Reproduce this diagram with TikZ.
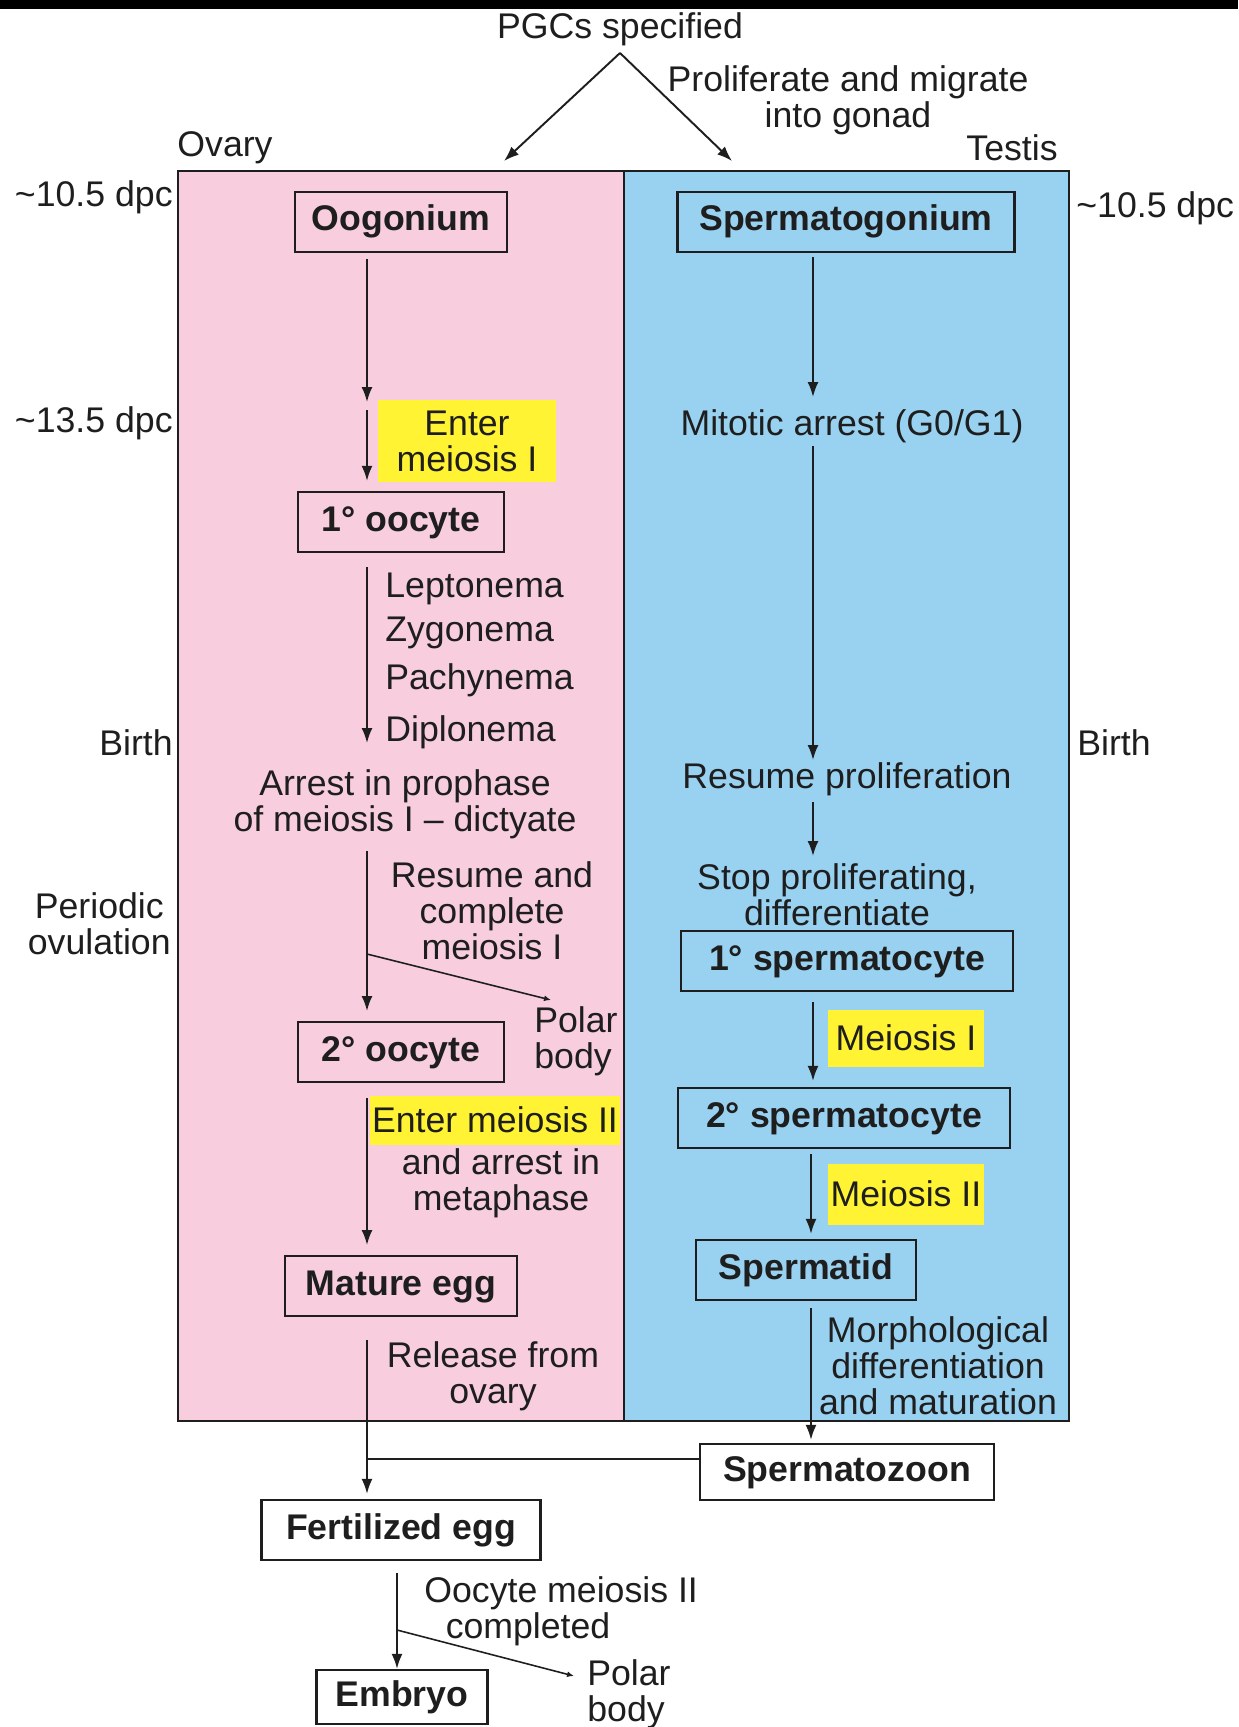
\documentclass[tikz,border=0pt]{standalone}
\usepackage{fontspec}
\setmainfont{Liberation Sans}
\usetikzlibrary{arrows.meta}
\definecolor{ovarypink}{RGB}{248,206,222}
\definecolor{testisblue}{RGB}{153,209,241}
\definecolor{markyellow}{RGB}{255,243,51}
\definecolor{ink}{RGB}{30,30,30}
\tikzstyle{txt} = [text=ink, align=center, inner sep=0pt, yshift=-0.08cm, font=\fontsize{20.3}{20.5}\selectfont]
\tikzstyle{cell} = [rectangle, draw=ink, line width=1.3pt, text=ink, inner sep=0pt, minimum height=1.2cm, text height=0.51cm, text depth=0.15cm, font=\bfseries\fontsize{20.3}{20.5}\selectfont]
\tikzstyle{yellowbox} = [text=ink, align=center, inner sep=0pt, fill=markyellow, font=\fontsize{20.3}{20.5}\selectfont]
\tikzstyle{arrow} = [draw=ink, line width=1.1pt, ->, >={Latex[length=0.3cm,width=0.22cm]}]
\tikzstyle{polararrow} = [draw=ink, line width=0.9pt, ->, >={Latex[length=0.14cm,width=0.12cm]}]

\begin{document}
\begin{tikzpicture}[x=0.02cm, y=-0.02cm]
\useasboundingbox (0,0) rectangle (1238,1727);
\fill[black] (0,0) rectangle (1238,9);

% the two gonads
\filldraw[fill=ovarypink, draw=ink, line width=1pt] (178,171) rectangle (624,1421);
\filldraw[fill=testisblue, draw=ink, line width=1pt] (624,171) rectangle (1069,1421);

\node (pgcs) [txt] at (620,25) {PGCs specified};
\node (migrate) [txt] at (848,96) {Proliferate and migrate\\into gonad};
\node (ovary) [txt] at (225,144) {Ovary};
\node (testis) [txt] at (1012,144) {Testis};

% time line
\node (dpcleft) [txt, anchor=east] at (173,193) {\textasciitilde10.5 dpc};
\node (dpcmid) [txt, anchor=east] at (173,419) {\textasciitilde13.5 dpc};
\node (birthleft) [txt, anchor=east] at (173,739) {Birth};
\node (ovulation) [txt, anchor=east] at (171,920) {Periodic\\ovulation};
\node (dpcright) [txt, anchor=west] at (1076,204) {\textasciitilde10.5 dpc};
\node (birthright) [txt, anchor=west] at (1077,739) {Birth};

% female side
\node (oogonium) [cell, minimum width=4.24cm] at (401,222) {Oogonium};
\node (enterone) [yellowbox, minimum width=3.58cm, minimum height=1.66cm] at (467,441) {Enter\\meiosis I};
\node (oocyteone) [cell, minimum width=4.12cm] at (401,522) {1\textdegree\ oocyte};
\foreach \stage/\y in {Leptonema/585, Zygonema/629, Pachynema/676, Diplonema/728}
  \node (\stage) [txt, anchor=west] at (385,\y) {\stage};
\node (arrest) [txt] at (405,800) {Arrest in prophase\\of meiosis I \textendash\ dictyate};
\node (resume) [txt] at (492,907) {Resume and\\complete\\meiosis I};
\node (polarone) [txt, anchor=west, align=left] at (534,1037) {Polar\\body};
\node (oocytetwo) [cell, minimum width=4.12cm] at (401,1052) {2\textdegree\ oocyte};
\node (entertwo) [yellowbox, minimum width=5.0cm, minimum height=0.98cm] at (495,1120) {Enter meiosis II};
\node (andarrest) [txt] at (501,1179) {and arrest in\\metaphase};
\node (matureegg) [cell, minimum width=4.64cm] at (401,1286) {Mature egg};
\node (release) [txt] at (493,1372) {Release from\\ovary};
\node (fertegg) [cell, fill=white, minimum width=5.58cm] at (401,1530) {Fertilized egg};
\node (oocytemeiosis) [txt, anchor=west, align=left] at (424,1607) {Oocyte meiosis II\\\hspace*{0.6em}completed};
\node (embryo) [cell, fill=white, minimum width=3.42cm, minimum height=1.08cm] at (402,1697) {Embryo};
\node (polartwo) [txt, anchor=west, align=left] at (587,1690) {Polar\\body};

% male side
\node (spermgonium) [cell, minimum width=6.74cm] at (846,222) {Spermatogonium};
\node (mitotic) [txt] at (852,422) {Mitotic arrest (G0/G1)};
\node (resumeprolif) [txt] at (847,775) {Resume proliferation};
\node (stopprolif) [txt] at (837,891) {Stop proliferating,\\differentiate};
\node (spermcyteone) [cell, minimum width=6.64cm] at (847,961) {1\textdegree\ spermatocyte};
\node (meiosisone) [yellowbox, minimum width=3.14cm, minimum height=1.14cm] at (906,1038) {Meiosis I};
\node (spermcytetwo) [cell, minimum width=6.64cm] at (844,1118) {2\textdegree\ spermatocyte};
\node (meiosistwo) [yellowbox, minimum width=3.14cm, minimum height=1.22cm] at (906,1194) {Meiosis II};
\node (spermatid) [cell, minimum width=4.4cm] at (806,1270) {Spermatid};
\node (morph) [txt] at (938,1362) {Morphological\\differentiation\\and maturation};
\node (spermzoon) [cell, fill=white, minimum width=5.88cm, minimum height=1.12cm] at (847,1472) {Spermatozoon};

% free ends of the connectors
\coordinate (apex) at (620,53);
\coordinate (toovary) at (504,161);
\coordinate (totestis) at (732,161);
\coordinate (a1) at (367,259);
\coordinate (a2) at (367,402);
\coordinate (a3) at (367,410);
\coordinate (a5) at (367,567);
\coordinate (a6) at (367,743);
\coordinate (a7) at (367,851);
\coordinate (a8) at (367,1011);
\coordinate (pbone) at (367,954);
\coordinate (pboneend) at (551,1000);
\coordinate (a9) at (367,1098);
\coordinate (a10) at (367,1245);
\coordinate (a11) at (367,1340);
\coordinate (join) at (367,1459);
\coordinate (c1) at (397,1573);
\coordinate (pbtwo) at (397,1630);
\coordinate (pbtwoend) at (574,1676);
\coordinate (b1) at (813,257);
\coordinate (b2) at (813,397);
\coordinate (b3) at (813,446);
\coordinate (b4) at (813,760);
\coordinate (b5) at (813,802);
\coordinate (b6) at (813,856);
\coordinate (b7) at (813,1002);
\coordinate (b9) at (811,1154);
\coordinate (b10) at (811,1308);

\draw [arrow] (apex) -- (toovary);
\draw [arrow] (apex) -- (totestis);

\draw [arrow] (a1) -- (a2);
\draw [arrow, shorten >=0.2cm] (a3) -- (a3 |- oocyteone.north);
\draw [arrow] (a5) -- (a6);
\draw [arrow] (a7) -- (a8);
\draw [polararrow] (pbone) -- (pboneend);
\draw [arrow] (a9) -- (a10);
\draw [arrow, shorten >=0.1cm] (a11) -- (a11 |- fertegg.north);
\draw [draw=ink, line width=1.1pt] (join) -- (join -| spermzoon.west);
\draw [arrow] (c1) -- (c1 |- embryo.north);
\draw [polararrow] (pbtwo) -- (pbtwoend);

\draw [arrow] (b1) -- (b2);
\draw [arrow] (b3) -- (b4);
\draw [arrow] (b5) -- (b6);
\draw [arrow, shorten >=0.12cm] (b7) -- (b7 |- spermcytetwo.north);
\draw [arrow, shorten >=0.1cm] (b9) -- (b9 |- spermatid.north);
\draw [arrow, shorten >=0.06cm] (b10) -- (b10 |- spermzoon.north);
\end{tikzpicture}
\end{document}
